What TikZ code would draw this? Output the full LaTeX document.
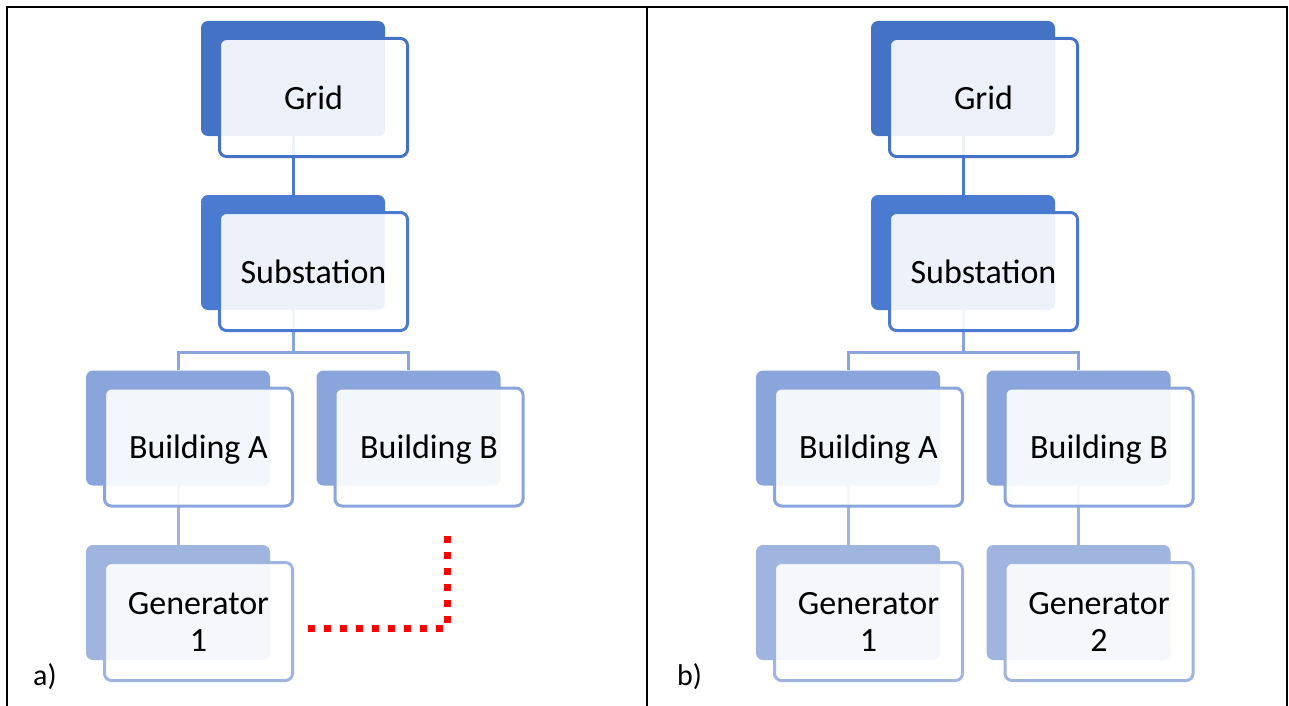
\documentclass[tikz,border=0pt]{standalone}
\usepackage{fontspec}
\setmainfont{Carlito}
\usetikzlibrary{backgrounds}

\definecolor{lvlone}{HTML}{4472C4}
\definecolor{lvltwo}{HTML}{4A7BD0}
\definecolor{lvlthree}{HTML}{8AA5DB}
\definecolor{lvlfour}{HTML}{A0B4E0}

\tikzset{
	backbox/.style={rectangle, rounded corners=7pt, inner sep=0pt,
		minimum width=184pt, minimum height=115pt},
	frontbox/.style={rectangle, rounded corners=7pt, inner sep=0pt, line width=3pt,
		fill=white, fill opacity=0.9, text opacity=1, align=center,
		minimum width=188pt, minimum height=118pt, text depth=0pt,
		font=\fontsize{34}{37}\selectfont},
	link/.style={line width=3pt},
	rule/.style={line width=2pt},
	breakline/.style={red, line width=7pt, dash pattern=on 7pt off 9pt},
	tag/.style={anchor=base west, inner sep=0pt, font=\fontsize{30}{34}\selectfont},
}

% filled card behind, outlined card with the text in front
\newcommand{\orgbox}[4]{%
	\node[backbox, fill=#3] (#1-bk) at (#2) {};
	\node[frontbox, draw=#3] (#1) at ([xshift=20.5pt,yshift=-19pt]#1-bk.center) {#4};}

\begin{document}
\begin{tikzpicture}[x=1pt, y=-1pt]
			%%%%% START %%%%%
			\useasboundingbox (0,0) rectangle (1289,706);
			
			% table rules
			\draw[rule] (5.5,7) -- (1288,7);
			\draw[rule] (6.5,7) -- (6.5,706);
			\draw[rule] (647,7) -- (647,706);
			\draw[rule] (1287,7) -- (1287,706);
			
			% panel a
			\orgbox{a-grid}{293,78.5}{lvlone}{Grid}
			\orgbox{a-sub}{293,252.5}{lvltwo}{Substation}
			\orgbox{a-bldA}{178,428}{lvlthree}{Building A}
			\orgbox{a-bldB}{408.5,428}{lvlthree}{Building B}
			\orgbox{a-genA}{178,602.5}{lvlfour}{Generator\\1}
			
			% panel b
			\orgbox{b-grid}{963,78.5}{lvlone}{Grid}
			\orgbox{b-sub}{963,252.5}{lvltwo}{Substation}
			\orgbox{b-bldA}{848,428}{lvlthree}{Building A}
			\orgbox{b-bldB}{1078.5,428}{lvlthree}{Building B}
			\orgbox{b-genA}{848,602.5}{lvlfour}{Generator\\1}
			\orgbox{b-genB}{1078.5,602.5}{lvlfour}{Generator\\2}
			
			% links sit under the cards
			\begin{scope}[on background layer]
				\draw[link, lvltwo] (a-grid-bk.south) -- (a-sub-bk.north);
				\draw[link, lvlthree] (a-sub-bk.south) -- ++(0,42) -| (a-bldA-bk.north);
				\draw[link, lvlthree] (a-sub-bk.south) -- ++(0,42) -| (a-bldB-bk.north);
				\draw[link, lvlfour] (a-bldA-bk.south) -- (a-genA-bk.north);
				
				\draw[link, lvltwo] (b-grid-bk.south) -- (b-sub-bk.north);
				\draw[link, lvlthree] (b-sub-bk.south) -- ++(0,42) -| (b-bldA-bk.north);
				\draw[link, lvlthree] (b-sub-bk.south) -- ++(0,42) -| (b-bldB-bk.north);
				\draw[link, lvlfour] (b-bldA-bk.south) -- (b-genA-bk.north);
				\draw[link, lvlfour] (b-bldB-bk.south) -- (b-genB-bk.north);
			\end{scope}
			
			% missing link to building B
			\coordinate (cut-a) at (308,628);
			\coordinate (cut-b) at (447,535);
			\draw[breakline] (cut-a) -| (cut-b);
			
			\node[tag] (tag-a) at (33,685) {a)};
			\node[tag] (tag-b) at (677,685) {b)};
			%%%%% END %%%%%
\end{tikzpicture}
\end{document}
